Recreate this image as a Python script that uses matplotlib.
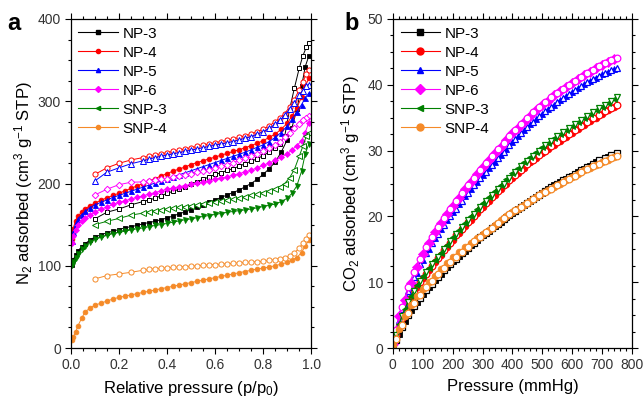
import matplotlib
matplotlib.use("Agg")
import matplotlib.pyplot as plt
from matplotlib.ticker import MultipleLocator

plt.rcParams['font.family'] = ['Liberation Sans', 'DejaVu Sans']
plt.rcParams['mathtext.default'] = 'regular'

# ---------------- Panel a: N2 isotherms ----------------
p_ads = [0.005, 0.01, 0.02, 0.03, 0.045, 0.06, 0.08, 0.100, 0.125, 0.150, 0.175, 0.200, 0.225,
         0.250, 0.275, 0.300, 0.325, 0.350, 0.375, 0.400, 0.425, 0.450, 0.475, 0.500, 0.525,
         0.550, 0.575, 0.600, 0.625, 0.650, 0.675, 0.700, 0.725, 0.750, 0.775, 0.800, 0.825,
         0.850, 0.875, 0.900, 0.920, 0.940, 0.960, 0.975, 0.990]
p_des = [0.99, 0.98, 0.965, 0.95, 0.93, 0.91, 0.89, 0.87, 0.85, 0.825, 0.8, 0.775, 0.75, 0.725,
         0.7, 0.675, 0.65, 0.625, 0.6, 0.575, 0.55, 0.525, 0.5, 0.475, 0.45, 0.425, 0.4, 0.375,
         0.35, 0.325, 0.3, 0.25, 0.2, 0.15, 0.1]

np3_ads = [101, 107, 113, 118, 123, 127, 131, 135, 137.5, 140, 142, 144, 146, 147.5, 149, 151,
           152.5, 154, 156, 158, 160.5, 163, 165.5, 168, 171, 174, 177, 180, 183, 186, 189, 192,
           196, 200, 205, 211, 218, 226, 238, 253, 268, 290, 318, 342, 355]
np3_des = [371, 366, 355, 340, 316, 290, 258, 248, 243, 238, 234, 230, 227, 224, 221, 218, 216,
           213, 211, 208, 205, 202, 199, 196, 193, 190.5, 188, 185, 182, 180, 178, 174, 169, 165, 157]
np4_ads = [133, 145, 155, 160, 165, 169, 173, 176, 179.5, 182.5, 185.5, 188, 191, 194, 197, 200,
           203, 206, 209, 212, 215, 217.5, 220, 223, 225.5, 227.5, 230, 232, 234.5, 236.5, 239, 241,
           243.5, 246, 249, 252, 256, 260, 266, 273, 282, 292, 305, 318, 328]
np4_des = [338, 333, 324, 314, 302, 293, 285, 280, 275, 270, 266, 263, 260, 258, 256, 254, 252.5,
           251, 249.5, 248, 246.5, 245, 243.5, 242, 240.5, 239, 237.5, 236, 234.5, 233, 231.5,
           228.6, 224.5, 219, 211]
np5_ads = [130, 141, 151, 157, 162, 166, 170.5, 174, 177, 180, 183, 185.5, 188, 190.5, 193, 195.5,
           198, 200.5, 203, 205.5, 208, 210.5, 213, 215.5, 218, 220.5, 223, 225.5, 228, 230.5, 233,
           235.5, 238, 241, 244, 247, 251, 256, 262, 270, 278, 287, 296, 304, 310]
np5_des = [320, 318, 313, 307, 298, 290, 283, 277, 272, 267, 263, 260, 257, 255, 253, 251, 249.5,
           248, 246.5, 245, 243.5, 242, 240.5, 239, 237.5, 236, 234.5, 233, 231.5, 229.5, 227.5,
           224, 219, 213.7, 203]
np6_ads = [128, 136, 144, 149, 154, 157.5, 161.5, 165, 168.5, 171.5, 174.5, 177, 179, 181, 183, 185,
           187, 189, 191, 193, 194.5, 196, 197.5, 199, 200.5, 202, 203.5, 205, 206.5, 208, 210, 212,
           214, 216, 219, 222, 225, 228, 232, 236, 241, 246, 252, 262, 274]
np6_des = [282, 280, 277, 272, 267, 261, 256, 251, 247, 243, 239.5, 236, 233, 230.5, 228, 225.5, 223,
           221, 219, 217, 215, 213.5, 212, 210.5, 209, 207.5, 206, 205, 204, 203, 202, 201.5, 198.5,
           193, 186]
snp3_ads = [101, 105, 110, 114, 120, 124, 128.5, 132, 134.5, 137, 139, 140.5, 142, 143.5, 145, 146,
            147.5, 149, 150, 151.5, 153, 154.5, 156, 157, 158.5, 160, 161, 162.5, 163.5, 165, 166,
            167, 168, 169, 170.5, 172, 173.5, 175, 178, 182, 188, 197, 215, 236, 248]
snp3_des = [262, 258, 245, 233, 217, 207, 200, 196, 193, 191, 189, 187, 185.5, 184, 182.5, 181, 180,
            178.5, 177.5, 176.5, 175, 174, 173, 172, 171, 170, 169, 168, 167, 165.5, 164, 161.5,
            157.5, 154, 150]
snp4_ads = [10, 13, 19, 27, 36, 44, 48.5, 52, 54.5, 57, 59.5, 61.5, 63, 64.5, 66, 67.5, 69, 70.5,
            72, 73.5, 75, 76.5, 78, 79.5, 81, 82.5, 84, 85.5, 87, 88.5, 90, 91.5, 93, 94.5, 96, 97,
            98.5, 100, 102, 104, 107, 110, 116, 124, 131]
snp4_des = [137, 133, 128, 121, 116, 112, 109.5, 108.5, 107.5, 106.5, 105.5, 105, 104.5, 104, 103.5,
            103, 102.5, 102, 101.5, 101, 100.5, 100, 99.5, 99, 98.5, 98, 97.5, 97, 96.5, 95.5, 94.5,
            92, 90, 88, 84]

# ---------------- Panel b: CO2 isotherms ----------------
P_ads = [2] + list(range(20, 741, 20))
P_des = list(range(750, 9, -20))

co2_np3_ads = [0.3, 2.2, 4.1, 5.7, 7.0, 8.2, 9.3, 10.3, 11.3, 12.3, 13.2, 14.0, 14.8, 15.6, 16.4,
               17.1, 17.8, 18.5, 19.2, 19.9, 20.5, 21.1, 21.7, 22.3, 22.9, 23.5, 24.1, 24.7, 25.2,
               25.7, 26.2, 26.7, 27.2, 27.7, 28.2, 28.6, 29.0, 29.4]
co2_np3_des = [29.7, 29.3, 28.9, 28.5, 28.0, 27.5, 27.0, 26.5, 26.0, 25.5, 25.0, 24.4, 23.8, 23.2,
               22.6, 22.0, 21.4, 20.8, 20.2, 19.6, 18.9, 18.2, 17.5, 16.8, 16.0, 15.2, 14.4, 13.6,
               12.8, 11.8, 10.8, 9.8, 8.8, 7.6, 6.4, 5.0, 3.2, 1.2]
co2_np4_ads = [0.4, 3.3, 5.7, 7.6, 9.2, 10.6, 11.8, 13.0, 14.2, 15.3, 16.4, 17.5, 18.5, 19.5, 20.5,
               21.4, 22.3, 23.2, 24.1, 25.0, 25.8, 26.6, 27.4, 28.2, 28.9, 29.6, 30.3, 30.9, 31.5,
               32.1, 32.7, 33.3, 33.9, 34.5, 35.0, 35.6, 36.1, 36.6]
co2_np4_des = [37.0, 36.5, 36.0, 35.4, 34.9, 34.3, 33.7, 33.1, 32.5, 31.9, 31.3, 30.7, 30.0, 29.3,
               28.6, 27.9, 27.1, 26.3, 25.5, 24.7, 23.8, 22.9, 22.0, 21.1, 20.1, 19.1, 18.1, 17.1,
               16.0, 14.9, 13.7, 12.5, 11.3, 10.0, 8.5, 6.8, 4.6, 2.0]
co2_np5_ads = [0.5, 4.2, 6.8, 9.2, 11.4, 13.4, 15.1, 16.7, 18.1, 19.4, 20.7, 21.9, 23.1, 24.2, 25.3,
               26.3, 27.3, 28.3, 29.3, 30.3, 31.3, 32.2, 33.1, 34.0, 34.8, 35.6, 36.3, 37.0, 37.7,
               38.3, 38.9, 39.5, 40.1, 40.6, 41.1, 41.6, 42.0, 42.4]
co2_np5_des = [42.6, 42.2, 41.8, 41.4, 40.9, 40.4, 39.8, 39.2, 38.6, 38.0, 37.4, 36.7, 36.0, 35.2,
               34.4, 33.6, 32.7, 31.8, 30.8, 29.8, 28.8, 27.8, 26.8, 25.8, 24.7, 23.6, 22.4, 21.2,
               20.0, 18.7, 17.3, 15.9, 14.4, 12.7, 10.8, 8.6, 6.0, 2.7]
co2_np6_ads = [0.6, 4.8, 7.3, 9.9, 12.3, 14.3, 16.0, 17.6, 19.0, 20.3, 21.6, 22.8, 24.1, 25.2, 26.4,
               27.5, 28.6, 29.6, 30.6, 31.6, 32.6, 33.5, 34.4, 35.3, 36.1, 36.9, 37.6, 38.4, 39.1,
               39.7, 40.3, 40.9, 41.5, 42.0, 42.5, 43.0, 43.5, 43.9]
co2_np6_des = [44.1, 43.7, 43.3, 42.8, 42.3, 41.8, 41.2, 40.6, 40.0, 39.4, 38.8, 38.1, 37.4, 36.6,
               35.8, 35.0, 34.1, 33.2, 32.2, 31.2, 30.2, 29.2, 28.1, 27.0, 25.9, 24.8, 23.6, 22.4,
               21.1, 19.8, 18.4, 16.9, 15.3, 13.6, 11.6, 9.2, 6.2, 2.8]
co2_snp3_ads = [0.5, 3.6, 6.0, 7.9, 9.5, 10.9, 12.1, 13.3, 14.5, 15.7, 16.8, 17.9, 19.0, 20.1, 21.1,
                22.1, 23.0, 23.9, 24.8, 25.7, 26.6, 27.4, 28.2, 29.0, 29.8, 30.6, 31.2, 31.9, 32.5,
                33.1, 33.7, 34.3, 34.9, 35.5, 36.1, 36.7, 37.2, 37.8]
co2_snp3_des = [38.2, 37.6, 37.0, 36.4, 35.8, 35.2, 34.6, 34.0, 33.4, 32.8, 32.2, 31.5, 30.8, 30.0,
                29.2, 28.4, 27.6, 26.8, 25.9, 25.0, 24.1, 23.2, 22.3, 21.4, 20.4, 19.4, 18.4, 17.3,
                16.2, 15.1, 13.9, 12.7, 11.5, 10.2, 8.7, 7.0, 4.8, 2.0]
co2_snp4_ads = [0.4, 2.9, 4.9, 6.5, 7.9, 9.0, 10.0, 11.0, 12.0, 12.9, 13.8, 14.6, 15.3, 16.0, 16.7,
                17.4, 18.0, 18.7, 19.4, 20.0, 20.6, 21.2, 21.8, 22.4, 23.0, 23.5, 24.0, 24.5, 25.0,
                25.5, 26.0, 26.5, 27.0, 27.4, 27.8, 28.2, 28.6, 29.0]
co2_snp4_des = [29.2, 28.8, 28.4, 28.0, 27.6, 27.2, 26.7, 26.2, 25.7, 25.2, 24.7, 24.2, 23.7, 23.2,
                22.7, 22.1, 21.5, 20.9, 20.3, 19.7, 19.0, 18.3, 17.6, 16.9, 16.2, 15.4, 14.6, 13.8,
                13.0, 12.1, 11.2, 10.2, 9.2, 8.1, 6.8, 5.3, 3.5, 1.4]

labels = ['NP-3', 'NP-4', 'NP-5', 'NP-6', 'SNP-3', 'SNP-4']
colors = ['#000000', '#FF0000', '#0000FF', '#FF00FF', '#008000', '#F58A28']

fig = plt.figure(figsize=(6.43, 4.0), dpi=100)
axa = fig.add_axes([0.110, 0.130, 0.374, 0.8225])
axb = fig.add_axes([0.611, 0.130, 0.372, 0.8225])

# panel a
a_ads = [np3_ads, np4_ads, np5_ads, np6_ads, snp3_ads, snp4_ads]
a_des = [np3_des, np4_des, np5_des, np6_des, snp3_des, snp4_des]
a_mk_ads = ['s', 'o', '^', 'D', 'v', 'o']
a_mk_des = ['s', 'o', '^', 'D', '<', 'o']
a_ms = [3.2, 3.4, 3.6, 3.0, 3.6, 3.4]
for lab, c, ya, yd, ma, md, ms in zip(labels, colors, a_ads, a_des, a_mk_ads, a_mk_des, a_ms):
    axa.plot(p_ads, ya, '-', color=c, lw=0.7, marker=ma, ms=ms, mfc=c, mec=c, mew=0.6)
    axa.plot(p_des, yd, '-', color=c, lw=0.7, marker=md, ms=ms + 0.3, mfc='white', mec=c, mew=0.7)

# panel b
b_ads = [co2_np3_ads, co2_np4_ads, co2_np5_ads, co2_np6_ads, co2_snp3_ads, co2_snp4_ads]
b_des = [co2_np3_des, co2_np4_des, co2_np5_des, co2_np6_des, co2_snp3_des, co2_snp4_des]
b_mk_ads = ['s', 'o', '^', 'D', '<', 'o']
b_mk_des = ['s', 'o', '^', 'o', 'v', 'o']
for lab, c, ya, yd, ma, md in zip(labels, colors, b_ads, b_des, b_mk_ads, b_mk_des):
    axb.plot(P_ads, ya, '-', color=c, lw=0.7, marker=ma, ms=4.8, mfc=c, mec=c, mew=0.6)
    axb.plot(P_des, yd, '-', color=c, lw=0.7, marker=md, ms=4.8, mfc='white', mec=c, mew=0.9)

# legends
from matplotlib.lines import Line2D
leg_mk = ['s', 'o', '^', 'D', '<', 'o']
ha = [Line2D([], [], color=c, lw=0.8, marker=m, ms=3.0, mfc=c, mec=c) for c, m in zip(colors, leg_mk)]
hb = [Line2D([], [], color=c, lw=0.8, marker=m, ms=5.0, mfc=c, mec=c) for c, m in zip(colors, leg_mk)]
for ax, h in ((axa, ha), (axb, hb)):
    ax.legend(h, labels, loc='upper left', frameon=False, fontsize=11, handlelength=2.6,
              handletextpad=0.3, labelspacing=0.33, borderaxespad=0.2, borderpad=0.3)

axa.set_xlim(0, 1.0)
axa.set_ylim(0, 400)
axa.xaxis.set_major_locator(MultipleLocator(0.2))
axa.xaxis.set_minor_locator(MultipleLocator(0.05))
axa.yaxis.set_major_locator(MultipleLocator(100))
axa.yaxis.set_minor_locator(MultipleLocator(25))
axa.set_xticks([0, 0.2, 0.4, 0.6, 0.8, 1.0])
axa.set_xticklabels(['0.0', '0.2', '0.4', '0.6', '0.8', '1.0'])

axb.set_xlim(0, 800)
axb.set_ylim(0, 50)
axb.xaxis.set_major_locator(MultipleLocator(100))
axb.xaxis.set_minor_locator(MultipleLocator(20))
axb.yaxis.set_major_locator(MultipleLocator(10))
axb.yaxis.set_minor_locator(MultipleLocator(2.5))

for ax in (axa, axb):
    ax.tick_params(which='both', direction='out', top=True, right=True, labelsize=10,
                   labelcolor='#333333', width=0.8)
    ax.tick_params(which='major', length=4.5, pad=2.5)
    ax.tick_params(which='minor', length=2.5)
    for s in ax.spines.values():
        s.set_linewidth(0.9)

axa.set_xlabel('Relative pressure (p/p$_0$)', fontsize=12, labelpad=5)
axa.set_ylabel('N$_2$ adsorbed (cm$^3$ g$^{-1}$ STP)', fontsize=12, labelpad=2)
axb.set_xlabel('Pressure (mmHg)', fontsize=12, labelpad=5)
axb.set_ylabel('CO$_2$ adsorbed (cm$^3$ g$^{-1}$ STP)', fontsize=12, labelpad=4)

fig.text(0.012, 0.925, 'a', fontsize=17, fontweight='bold')
fig.text(0.535, 0.925, 'b', fontsize=17, fontweight='bold')

fig.savefig('out.png', dpi=100)
